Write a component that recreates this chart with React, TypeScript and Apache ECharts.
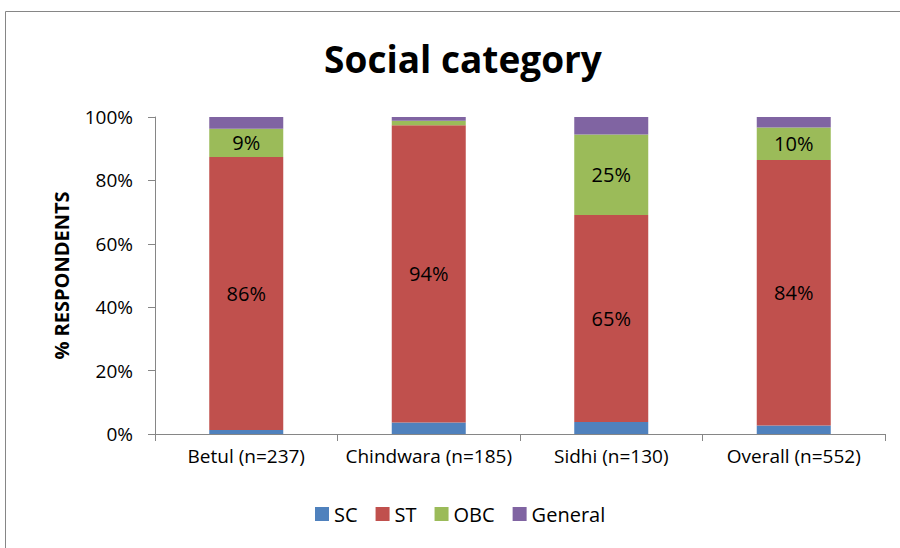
import React, { useEffect, useRef } from "react";
import * as echarts from "echarts";

const categories = ["Betul (n=237)", "Chindwara (n=185)", "Sidhi (n=130)", "Overall (n=552)"];
const seriesNames = ["SC", "ST", "OBC", "General"];
const scValues = [1.3, 3.6, 3.8, 2.7];
const stValues = [86.1, 93.8, 65.3, 83.7];
const obcValues = [8.9, 1.4, 25.4, 10.3];
const generalValues = [3.7, 1.2, 5.5, 3.3];
const yTicks = ["0%", "20%", "40%", "60%", "80%", "100%"];

const colors = ["#4F81BD", "#C0504D", "#9BBB59", "#8064A2"];
const FONT = "Open Sans";

export default function App() {
  const ref = useRef<HTMLDivElement>(null);
  useEffect(() => {
    if (!ref.current) return;
    const chart = echarts.init(ref.current, undefined, { renderer: "svg" });
    const data = [scValues, stValues, obcValues, generalValues];
    const labelFor = (i: number) => ({
      show: i === 1 || i === 2,
      position: "inside" as const,
      color: "#000",
      fontFamily: FONT,
      fontSize: 20,
      formatter: (p: any) => (p.value >= 3 ? Math.round(p.value) + "%" : ""),
    });
    chart.setOption({
      animation: false,
      textStyle: { fontFamily: FONT },
      title: {
        text: "Social category",
        left: 458,
        textAlign: "center",
        top: 35,
        textStyle: { fontFamily: FONT, fontSize: 37, fontWeight: "bold", color: "#000" },
      },
      graphic: [
        {
          type: "rect",
          shape: { x: 5.5, y: 11.5, width: 900, height: 545 },
          style: { fill: "none", stroke: "#868686", lineWidth: 1 },
          silent: true,
        },
      ],
      legend: {
        data: seriesNames,
        top: 499,
        left: 310,
        itemWidth: 14,
        itemHeight: 14,
        itemGap: 18,
        icon: "rect",
        textStyle: { fontFamily: FONT, fontSize: 20, color: "#000" },
      },
      grid: { left: 155, right: 15, top: 117, bottom: 114, containLabel: false },
      xAxis: {
        type: "category",
        data: categories,
        axisLine: { lineStyle: { color: "#868686", width: 1 } },
        axisTick: { show: true, alignWithLabel: false, length: 7, lineStyle: { color: "#868686" } },
        axisLabel: { fontFamily: FONT, fontSize: 19, color: "#000", margin: 12, interval: 0 },
      },
      yAxis: {
        type: "value",
        min: 0,
        max: 100,
        interval: 20,
        name: "% RESPONDENTS",
        nameLocation: "middle",
        nameGap: 84,
        nameTextStyle: { fontFamily: FONT, fontSize: 20, fontWeight: "bold", color: "#000" },
        axisLine: { show: true, lineStyle: { color: "#868686" } },
        axisTick: { show: true, length: 7, lineStyle: { color: "#868686" } },
        splitLine: { show: false },
        axisLabel: {
          fontFamily: FONT,
          fontSize: 19,
          color: "#000",
          margin: 22,
          formatter: (v: number) => yTicks[Math.round(v / 20)],
        },
      },
      series: seriesNames.map((name, i) => ({
        name,
        type: "bar",
        stack: "total",
        barWidth: 74,
        data: data[i],
        itemStyle: { color: colors[i] },
        label: labelFor(i),
      })),
    });
    return () => chart.dispose();
  }, []);
  return (
    <div
      ref={ref}
      style={{ position: "fixed", left: 0, top: 0, width: 900, height: 548, background: "#fff" }}
    />
  );
}
